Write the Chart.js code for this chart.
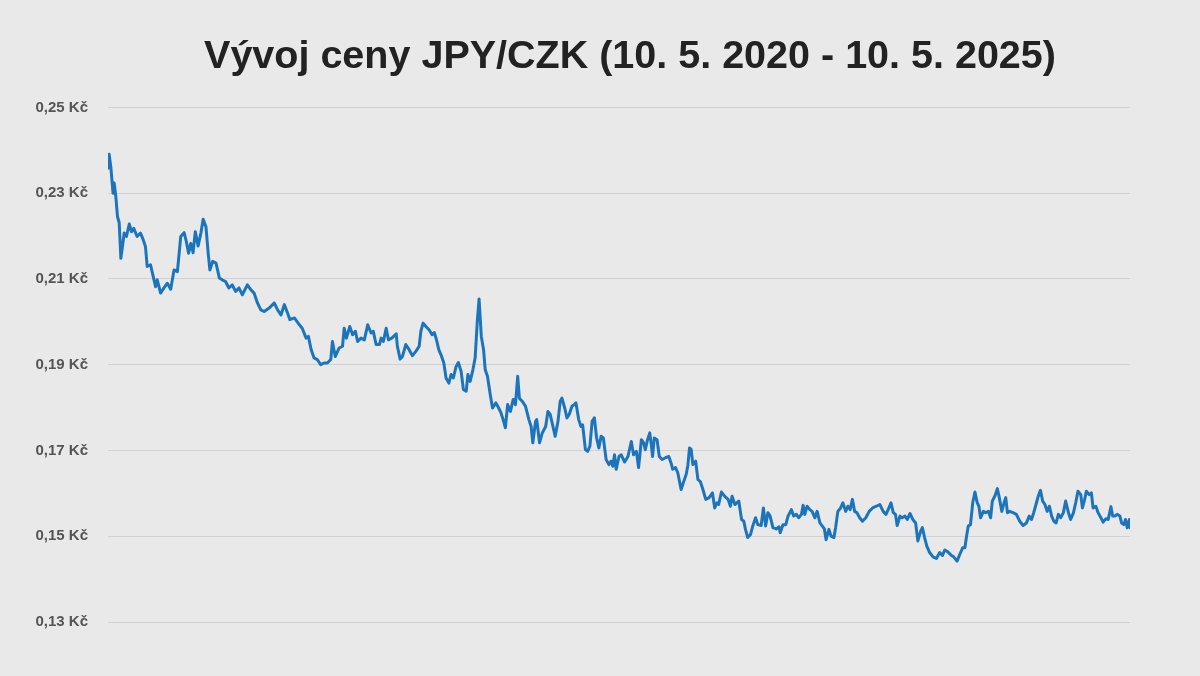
<!DOCTYPE html>
<html lang="cs">
<head>
<meta charset="utf-8">
<title>Vývoj ceny JPY/CZK</title>
<script src="https://cdn.jsdelivr.net/npm/chart.js@4.4.1/dist/chart.umd.min.js"></script>
<style>
  html, body { margin: 0; padding: 0; background: #e9e9e9; }
  #wrap { width: 1200px; height: 676px; }
</style>
</head>
<body>
<div id="wrap"><canvas id="chart" width="1200" height="676"></canvas></div>
<script>
// Days since 10. 5. 2020 (uneven spacing)
const dayOffsets = [
  0, 2, 5, 9, 11, 14, 17, 20, 23, 29, 33, 38, 42, 46, 52, 58, 63, 67, 70, 76,
  80, 85, 88, 94, 100, 106, 112, 118, 124, 130, 136, 140, 144, 148, 152, 156, 161, 166, 170, 175,
  179, 182, 187, 193, 199, 204, 210, 216, 222, 228, 234, 240, 249, 255, 261, 267, 273, 279, 288, 297,
  303, 309, 315, 321, 325,
  333, 342, 347, 354, 358, 363, 368, 374, 380, 386, 392, 398, 401, 406, 413, 419, 422, 426, 432, 437,
  442, 446, 452, 458, 464, 470, 474, 479, 485, 488, 492, 497, 501, 507, 515, 517, 522, 526, 532, 538,
  544, 550, 556, 559, 563, 568, 574, 579, 583, 587, 591, 595, 600, 604, 609, 613, 617, 622, 626, 631,
  635, 640, 643, 647, 652, 656, 660, 663, 667, 671, 674, 678, 683, 687, 693, 698, 702, 706, 710, 714,
  719, 724, 728, 732, 735, 740, 746, 752, 756, 759, 764, 766, 771, 776, 782, 786,
  790, 795, 799, 804, 808, 811, 816, 820, 824, 829, 833, 836, 841, 845, 848, 853, 857, 861, 865, 869,
  873, 877, 881, 885, 890, 895, 899, 902, 905, 908, 913, 917, 923, 929, 935, 939, 944, 948, 953, 957,
  960, 964, 968, 971, 973, 976, 981, 985, 990, 996, 1002, 1006, 1009, 1014, 1018, 1024, 1028, 1033, 1036, 1039,
  1042, 1045, 1050, 1054, 1058, 1062, 1068, 1074, 1080, 1084, 1088, 1091, 1096, 1102, 1108, 1112, 1115, 1120, 1127, 1132,
  1136, 1139, 1143, 1148, 1152, 1157, 1161, 1167, 1171, 1175, 1179, 1183, 1188, 1194, 1199, 1201, 1206, 1211, 1215, 1221,
  1225, 1230, 1234, 1239, 1242, 1245, 1249, 1254, 1258, 1263, 1267, 1272, 1276, 1280, 1283, 1288, 1292, 1297, 1300, 1304,
  1309, 1313, 1318, 1322, 1326, 1330, 1334, 1338, 1343, 1348, 1354, 1360, 1366, 1373, 1379, 1385, 1390, 1394, 1399, 1403,
  1407, 1410, 1415, 1419, 1424, 1428, 1433, 1438, 1443, 1447, 1452, 1455, 1459, 1463, 1468, 1474, 1480, 1486, 1491, 1495,
  1501, 1507, 1511, 1517, 1522, 1527, 1531, 1534, 1537, 1541, 1545, 1549, 1553, 1556, 1559, 1564, 1568, 1573, 1577, 1580,
  1585, 1589, 1592, 1597, 1601, 1604, 1607, 1611, 1617, 1623, 1629, 1635, 1641, 1646, 1650, 1654, 1658, 1662, 1666, 1670,
  1674, 1678, 1682, 1686, 1690, 1694, 1698, 1702, 1707, 1711, 1716, 1720, 1725, 1729, 1733, 1738, 1741, 1745, 1748, 1753,
  1757, 1760, 1765, 1769, 1774, 1778, 1783, 1787, 1792, 1795, 1799, 1803, 1808, 1811, 1815, 1818, 1821, 1825, 1826
];

// Price of 1 JPY in CZK
const prices = [
  0.2358, 0.2391, 0.2362, 0.2300, 0.2324, 0.2292, 0.2245, 0.2231, 0.2148, 0.2207,
  0.2199, 0.2228, 0.2210, 0.2218, 0.2199, 0.2207, 0.2191, 0.2175, 0.2129, 0.2133,
  0.2110, 0.2082, 0.2098, 0.2067, 0.2079, 0.2090, 0.2076, 0.2121, 0.2117, 0.2199,
  0.2208, 0.2187, 0.2160, 0.2183, 0.2161, 0.2210, 0.2177, 0.2207, 0.2239, 0.2222,
  0.2160, 0.2121, 0.2141, 0.2137, 0.2102, 0.2098, 0.2094, 0.2079, 0.2086, 0.2071,
  0.2079, 0.2063, 0.2086, 0.2075, 0.2067, 0.2044, 0.2028, 0.2024, 0.2032, 0.2044,
  0.2028, 0.2016, 0.2040, 0.2020, 0.2005,
  0.2009, 0.1993, 0.1985, 0.1962, 0.1966, 0.1935, 0.1916, 0.1912, 0.1900, 0.1904,
  0.1904, 0.1912, 0.1954, 0.1919, 0.1939, 0.1943, 0.1985, 0.1962, 0.1989, 0.1970,
  0.1978, 0.1954, 0.1962, 0.1958, 0.1993, 0.1974, 0.1978, 0.1947, 0.1947, 0.1962,
  0.1954, 0.1985, 0.1958, 0.1962, 0.1972, 0.1943, 0.1913, 0.1919, 0.1947, 0.1935,
  0.1921, 0.1931, 0.1943, 0.1978, 0.1997, 0.1989, 0.1981, 0.1970, 0.1975, 0.1958,
  0.1935, 0.1923, 0.1904, 0.1869, 0.1857, 0.1877, 0.1869, 0.1896, 0.1905, 0.1884,
  0.1842, 0.1838, 0.1877, 0.1861, 0.1888, 0.1916, 0.2005, 0.2053, 0.1966, 0.1935,
  0.1888, 0.1873, 0.1830, 0.1799, 0.1811, 0.1799, 0.1788, 0.1772, 0.1753, 0.1807,
  0.1791, 0.1819, 0.1807, 0.1873, 0.1822, 0.1815, 0.1803, 0.1772, 0.1756, 0.1718,
  0.1768, 0.1772, 0.1718, 0.1741, 0.1756, 0.1791,
  0.1784, 0.1756, 0.1733, 0.1768, 0.1815, 0.1822, 0.1799, 0.1776, 0.1784, 0.1803,
  0.1807, 0.1811, 0.1772, 0.1756, 0.1760, 0.1702, 0.1698, 0.1710, 0.1768, 0.1776,
  0.1729, 0.1706, 0.1733, 0.1729, 0.1679, 0.1667, 0.1675, 0.1663, 0.1690, 0.1656,
  0.1686, 0.1690, 0.1673, 0.1686, 0.1721, 0.1690, 0.1698, 0.1660, 0.1725, 0.1718,
  0.1702, 0.1725, 0.1741, 0.1710, 0.1686, 0.1729, 0.1725, 0.1686, 0.1679, 0.1683,
  0.1686, 0.1671, 0.1656, 0.1660, 0.1648, 0.1609, 0.1625, 0.1644, 0.1665, 0.1706,
  0.1702, 0.1667, 0.1675, 0.1632, 0.1628, 0.1613, 0.1586, 0.1590, 0.1601, 0.1566,
  0.1578, 0.1574, 0.1603, 0.1593, 0.1586, 0.1570, 0.1593, 0.1574, 0.1582, 0.1539,
  0.1535, 0.1516, 0.1497, 0.1504, 0.1524, 0.1543, 0.1527, 0.1525, 0.1566, 0.1524,
  0.1555, 0.1547, 0.1520, 0.1517, 0.1522, 0.1508, 0.1527, 0.1527, 0.1547, 0.1562,
  0.1547, 0.1551, 0.1543, 0.1551, 0.1572, 0.1551, 0.1570, 0.1562, 0.1558, 0.1543,
  0.1558, 0.1531, 0.1524, 0.1517, 0.1492, 0.1516, 0.1500, 0.1497, 0.1520, 0.1558,
  0.1566, 0.1578, 0.1558, 0.1570, 0.1562, 0.1586, 0.1558, 0.1555, 0.1543, 0.1535,
  0.1543, 0.1558, 0.1566, 0.1570, 0.1574, 0.1558, 0.1551, 0.1562, 0.1578, 0.1555,
  0.1551, 0.1525, 0.1547, 0.1543, 0.1547, 0.1539, 0.1553, 0.1539, 0.1531, 0.1489,
  0.1512, 0.1520, 0.1497, 0.1477, 0.1462, 0.1452, 0.1448, 0.1462, 0.1455, 0.1468,
  0.1463, 0.1455, 0.1452, 0.1442, 0.1458, 0.1473, 0.1473, 0.1500, 0.1524, 0.1527,
  0.1578, 0.1603, 0.1578, 0.1570, 0.1543, 0.1558, 0.1555, 0.1558, 0.1543, 0.1582,
  0.1595, 0.1611, 0.1593, 0.1558, 0.1578, 0.1590, 0.1555, 0.1558, 0.1555, 0.1551,
  0.1535, 0.1525, 0.1531, 0.1547, 0.1539, 0.1555, 0.1574, 0.1593, 0.1607, 0.1582,
  0.1574, 0.1558, 0.1570, 0.1547, 0.1535, 0.1531, 0.1551, 0.1543, 0.1555, 0.1582,
  0.1555, 0.1539, 0.1555, 0.1578, 0.1605, 0.1597, 0.1566, 0.1586, 0.1605, 0.1597,
  0.1601, 0.1566, 0.1570, 0.1555, 0.1543, 0.1533, 0.1541, 0.1539, 0.1569, 0.1547,
  0.1547, 0.1551, 0.1547, 0.1531, 0.1527, 0.1539, 0.1520, 0.1539, 0.1520
];

// Y axis ticks
const yTicks = [0.13, 0.15, 0.17, 0.19, 0.21, 0.23, 0.25];
const tickLabels = ['0,13 Kč', '0,15 Kč', '0,17 Kč', '0,19 Kč', '0,21 Kč', '0,23 Kč', '0,25 Kč'];

const totalDays = 1826; // 10. 5. 2020 - 10. 5. 2025

if (dayOffsets.length !== prices.length) {
  console.warn('data length mismatch', dayOffsets.length, prices.length);
}

const points = dayOffsets.map((d, i) => ({x: d, y: prices[i]}));

const FONT = '"Liberation Sans", Arial, Helvetica, sans-serif';

// the title in the original sits a bit right of the page centre
const titleShift = {
  id: 'titleShift',
  afterLayout(chart) {
    const t = chart.titleBlock;
    if (t) {
      t.left = 60;
      t.right = chart.width;
    }
  }
};

const background = {
  id: 'bg',
  beforeDraw(chart) {
    const ctx = chart.ctx;
    ctx.save();
    ctx.fillStyle = '#e9e9e9';
    ctx.fillRect(0, 0, chart.width, chart.height);
    ctx.restore();
  }
};

new Chart(document.getElementById('chart'), {
  type: 'line',
  data: {
    datasets: [{
      label: 'JPY/CZK',
      data: points,
      borderColor: '#1c75bc',
      borderWidth: 3,
      pointRadius: 0,
      tension: 0,
      fill: false,
      borderJoinStyle: 'round',
      borderCapStyle: 'round'
    }]
  },
  options: {
    responsive: false,
    animation: false,
    devicePixelRatio: 1,
    layout: {
      padding: {left: 0, right: 70, top: 0, bottom: 54}
    },
    plugins: {
      legend: {display: false},
      tooltip: {enabled: false},
      title: {
        display: true,
        text: 'Vývoj ceny JPY/CZK (10. 5. 2020 - 10. 5. 2025)',
        color: '#222222',
        font: {family: FONT, size: 39.5, weight: 'bold', lineHeight: 1.2},
        padding: {top: 33, bottom: 27}
      }
    },
    scales: {
      x: {
        type: 'linear',
        min: 0,
        max: totalDays,
        display: false
      },
      y: {
        min: 0.13,
        max: 0.25,
        afterBuildTicks: (scale) => {
          scale.ticks = yTicks.map(v => ({value: v}));
        },
        afterFit: (scale) => {
          scale.width = 108;
        },
        ticks: {
          color: '#555555',
          font: {family: FONT, size: 15, weight: 'bold'},
          padding: 20,
          callback: (value, index) => tickLabels[index]
        },
        grid: {
          color: '#d2d2d2',
          lineWidth: 1,
          drawTicks: false
        },
        border: {display: false}
      }
    }
  },
  plugins: [background, titleShift]
});
</script>
</body>
</html>
